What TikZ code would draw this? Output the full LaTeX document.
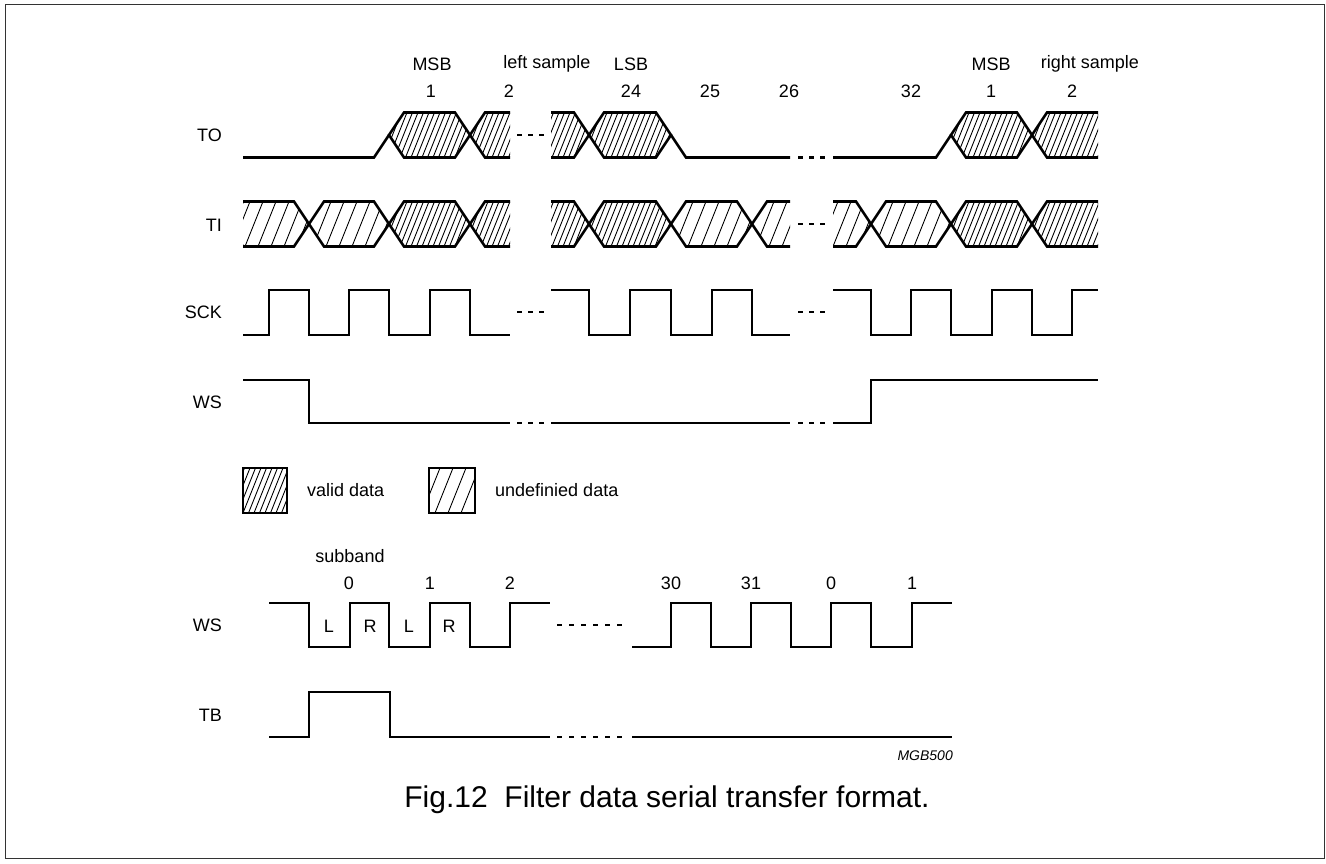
\documentclass[tikz,border=0pt]{standalone}
\usepackage{fontspec}
\setmainfont{Liberation Sans}
\usetikzlibrary{calc}

% one data cell: left edge, right edge, mid level, hatch step
\newcommand\datacell[4]{%
  \begin{scope}
    \clip (#1,#3) -- ({#1+15},{#3-22.5}) -- ({#2-15},{#3-22.5}) -- (#2,#3)
      -- ({#2-15},{#3+22.5}) -- ({#1+15},{#3+22.5}) -- cycle;
    \foreach \k in {0,...,45}
      \draw[hatchln] ({#1-22+\k*#4},{#3+22.5}) -- ++(18,-45);
  \end{scope}
  \draw[sig] (#1,#3) -- ({#1+15},{#3-22.5}) -- ({#2-15},{#3-22.5}) -- (#2,#3)
    -- ({#2-15},{#3+22.5}) -- ({#1+15},{#3+22.5}) -- cycle;
}

\begin{document}
\begin{tikzpicture}[x=1pt,y=-1pt,
  font=\fontsize{18}{20}\selectfont,
  sig/.style={line width=2.6pt,line join=miter},
  hatchln/.style={line width=0.9pt},
  gap/.style={line width=2.6pt,dash pattern=on 5pt off 6pt},
  lbl/.style={anchor=east,inner sep=0pt},
  txt/.style={inner sep=0pt},
  keybox/.style={line width=1.4pt}]
  \useasboundingbox (0,0) rectangle (1326,863);
  \draw[line width=1.4pt,black!80] (5.5,4.5) rectangle (1324.5,858.5);

  % signal names
  \node[lbl] (nTO)  at (222,135) {TO};
  \node[lbl] (nTI)  at (222,225) {TI};
  \node[lbl] (nSCK) at (222,312) {SCK};
  \node[lbl] (nWS)  at (222,402) {WS};
  \node[lbl] (nWSb) at (222,625) {WS};
  \node[lbl] (nTB)  at (222,715) {TB};

  % bit numbers
  \node[txt] (msbL)  at (432,64)  {MSB};
  \node[txt] (leftS) at (547,64)  {left sample};
  \node[txt] (lsb)   at (631,64)  {LSB};
  \node[txt] (msbR)  at (991,64)  {MSB};
  \node[txt] (rightS) at (1090,64) {right sample};
  \node[txt] (bA) at (431,91)  {1};
  \node[txt] (bB) at (509,91)  {2};
  \node[txt] (bC) at (631,91)  {24};
  \node[txt] (bD) at (710,91)  {25};
  \node[txt] (bE) at (789,91)  {26};
  \node[txt] (bF) at (911,91)  {32};
  \node[txt] (bG) at (991,91)  {1};
  \node[txt] (bH) at (1072,91) {2};

  % TO
  \draw[sig] (243,157.5) -- (374,157.5) -- (389,135);
  \begin{scope}
    \clip (243,100) rectangle (510,170);
    \datacell{389}{470}{135}{5.5}
    \datacell{470}{551}{135}{5.5}
  \end{scope}
  \draw[gap] (517,135) -- (547,135);
  \begin{scope}
    \clip (551,100) rectangle (790,170);
    \datacell{508}{589}{135}{5.5}
    \datacell{589}{671}{135}{5.5}
  \end{scope}
  \draw[sig] (671,135) -- (686,157.5) -- (790,157.5);
  \draw[gap] (798,157.5) -- (828,157.5);
  \draw[sig] (833,157.5) -- (936,157.5) -- (951,135);
  \begin{scope}
    \clip (833,100) rectangle (1098,170);
    \datacell{951}{1032}{135}{5.5}
    \datacell{1032}{1113}{135}{5.5}
  \end{scope}

  % TI
  \begin{scope}
    \clip (243,190) rectangle (510,260);
    \datacell{228}{309}{224}{13}
    \datacell{309}{389}{224}{13}
    \datacell{389}{470}{224}{5.5}
    \datacell{470}{551}{224}{5.5}
  \end{scope}
  \begin{scope}
    \clip (551,190) rectangle (790,260);
    \datacell{508}{589}{224}{5.5}
    \datacell{589}{671}{224}{5.5}
    \datacell{671}{752}{224}{13}
    \datacell{752}{833}{224}{13}
  \end{scope}
  \draw[gap] (798,224) -- (828,224);
  \begin{scope}
    \clip (833,190) rectangle (1098,260);
    \datacell{790}{871}{224}{13}
    \datacell{871}{951}{224}{13}
    \datacell{951}{1032}{224}{5.5}
    \datacell{1032}{1113}{224}{5.5}
  \end{scope}

  % SCK
  \draw[sig] (243,335) -| (269,290) -| (309,335) -| (349,290) -| (389,335)
    -| (430,290) -| (470,335) -- (510,335);
  \draw[gap] (517,312) -- (547,312);
  \draw[sig] (551,290) -| (589,335) -| (630,290) -| (671,335) -| (712,290)
    -| (752,335) -- (790,335);
  \draw[gap] (798,312) -- (828,312);
  \draw[sig] (833,290) -| (871,335) -| (911,290) -| (951,335) -| (992,290)
    -| (1032,335) -| (1072,290) -- (1098,290);

  % WS
  \draw[sig] (243,380) -| (309,423) -- (510,423);
  \draw[gap] (517,423) -- (547,423);
  \draw[sig] (551,423) -- (790,423);
  \draw[gap] (798,423) -- (828,423);
  \draw[sig] (833,423) -| (871,380) -- (1098,380);

  % key
  \begin{scope}
    \clip (243,468) rectangle (287,513);
    \foreach \k in {0,...,12}
      \draw[hatchln] ({221+\k*5.5},513) -- ++(18,-45);
  \end{scope}
  \draw[keybox] (243,468) rectangle (287,513);
  \node[txt,anchor=west] (kValid) at (307,490) {valid data};
  \begin{scope}
    \clip (429,468) rectangle (475,513);
    \foreach \k in {0,...,6}
      \draw[hatchln] ({409+\k*13},513) -- ++(18,-45);
  \end{scope}
  \draw[keybox] (429,468) rectangle (475,513);
  \node[txt,anchor=west] (kUndef) at (495,490) {undefinied data};

  % subband labels
  \node[txt] (sub) at (350,556) {subband};
  \node[txt] (s0)  at (349,583) {0};
  \node[txt] (s1)  at (430,583) {1};
  \node[txt] (s2)  at (510,583) {2};
  \node[txt] (s30) at (671,583) {30};
  \node[txt] (s31) at (751,583) {31};
  \node[txt] (s0b) at (831,583) {0};
  \node[txt] (s1b) at (912,583) {1};
  \node[txt] (cL1) at (329,626) {L};
  \node[txt] (cR1) at (370,626) {R};
  \node[txt] (cL2) at (409,626) {L};
  \node[txt] (cR2) at (449,626) {R};

  % WS (subband)
  \draw[sig] (269,603) -| (309,647) -| (350,603) -| (389,647) -| (430,603)
    -| (470,647) -| (510,603) -- (550,603);
  \draw[gap,dash pattern=on 5pt off 7pt] (557,625) -- (625,625);
  \draw[sig] (632,647) -| (671,603) -| (711,647) -| (751,603) -| (791,647)
    -| (831,603) -| (871,647) -| (912,603) -- (952,603);

  % TB
  \draw[sig] (269,737) -| (309,692) -| (390,737) -- (550,737);
  \draw[gap,dash pattern=on 5pt off 7pt] (557,737) -- (625,737);
  \draw[sig] (632,737) -- (952,737);

  \node[txt,anchor=east,font=\itshape\fontsize{14}{16}\selectfont] (code) at (953,756) {MGB500};
  \node[txt,font=\fontsize{30}{34}\selectfont] (cap) at (667,800) {Fig.12\ \ Filter data serial transfer format.};
\end{tikzpicture}
\end{document}
